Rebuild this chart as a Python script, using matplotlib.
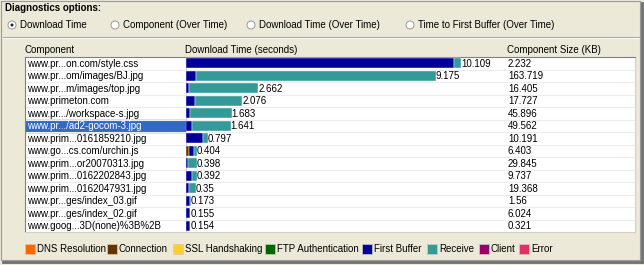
import matplotlib
matplotlib.use("Agg")
import matplotlib.pyplot as plt
from matplotlib.patches import Rectangle, Circle

plt.rcParams['font.family'] = ['Liberation Sans', 'DejaVu Sans']

# ── data ─────────────────────────────────────────────────────────────
components = [
    "www.pr...on.com/style.css",
    "www.pr...om/images/BJ.jpg",
    "www.pr...m/images/top.jpg",
    "www.primeton.com",
    "www.pr.../workspace-s.jpg",
    "www.pr.../ad2-gocom-3.jpg",
    "www.prim...0161859210.jpg",
    "www.go...cs.com/urchin.js",
    "www.prim...or20070313.jpg",
    "www.prim...0162202843.jpg",
    "www.prim...0162047931.jpg",
    "www.pr...ges/index_03.gif",
    "www.pr...ges/index_02.gif",
    "www.goog...3D(none)%3B%2B",
]
connection = [0, 0, 0, 0, 0, 0, 0, 0.11, 0, 0, 0, 0, 0, 0]
first_buffer = [9.85, 0.37, 0.11, 0.33, 0.15, 0.22, 0.64, 0.18, 0.08, 0.22, 0.10, 0.15, 0.14, 0.154]
receive = [0.259, 8.805, 2.552, 1.746, 1.533, 1.421, 0.157, 0.114, 0.318, 0.172, 0.25, 0.023, 0.015, 0.0]
totals = ["10.109", "9.175", "2.662", "2.076", "1.683", "1.641", "0.797",
          "0.404", "0.398", "0.392", "0.35", "0.173", "0.155", "0.154"]
sizes_kb = ["2.232", "163.719", "16.405", "17.727", "45.896", "49.562", "10.191",
            "6.403", "29.845", "9.737", "19.368", "1.56", "6.024", "0.321"]
selected_row = 5

legend_labels = ["DNS Resolution", "Connection", "SSL Handshaking", "FTP Authentication",
                 "First Buffer", "Receive", "Client", "Error"]
legend_colors = ["#FF6600", "#663300", "#FFCC33", "#006600",
                 "#000099", "#339999", "#990066", "#DD3366"]
radio_labels = ["Download Time", "Component (Over Time)",
                "Download Time (Over Time)", "Time to First Buffer (Over Time)"]

# ── layout (pixels) ──────────────────────────────────────────────────
W, H = 644, 265
BG = "#ECE9D8"
FS = 7
legend_x = [25, 107, 173, 265, 362, 427, 479, 519]
radio_x = [12, 115, 251, 410]
PX_PER_SEC = 27.2

fig = plt.figure(figsize=(W / 100, H / 100), dpi=100)
fig.patch.set_facecolor(BG)


def px_axes(x0, y0, x1, y1):
    return fig.add_axes([x0 / W, 1 - y1 / H, (x1 - x0) / W, (y1 - y0) / H])


# ── window chrome ────────────────────────────────────────────────────
chrome = px_axes(0, 0, W, H)
chrome.set_xlim(0, W)
chrome.set_ylim(H, 0)
chrome.axis("off")

chrome.text(5, 8, "Diagnostics options:", fontsize=FS, fontweight="bold", va="center")
for i, (x, lab) in enumerate(zip(radio_x, radio_labels)):
    chrome.add_patch(Circle((x, 25), 4, facecolor="white", edgecolor="#9A9A9A", lw=0.7))
    if i == 0:
        chrome.add_patch(Circle((x, 25), 1.5, facecolor="#222222", edgecolor="none"))
    chrome.text(x + 8, 25.5, lab, fontsize=FS, va="center")

chrome.plot([3, 640], [37, 37], color="#A8A8A8", lw=0.8)
chrome.plot([3, 640], [38, 38], color="white", lw=0.6)

chrome.text(25, 50, "Component", fontsize=FS, va="center")
chrome.text(185, 50, "Download Time (seconds)", fontsize=FS, va="center")
chrome.text(507, 50, "Component Size (KB)", fontsize=FS, va="center")

for x, lab, col in zip(legend_x, legend_labels, legend_colors):
    chrome.add_patch(Rectangle((x, 244), 10, 10, facecolor=col, edgecolor="#D0CCB8", lw=0.5))
    chrome.text(x + 12, 249.5, lab, fontsize=FS, va="center")

# outer frame with shadow
chrome.plot([1, 640, 640, 1, 1], [1, 1, 260, 260, 1], color="#9A9A9A", lw=0.8)
chrome.plot([642, 642], [3, 262], color="#707070", lw=2)
chrome.plot([3, 642], [262, 262], color="#707070", lw=2)

# ── table ────────────────────────────────────────────────────────────
n = len(components)
rows = list(range(n))

table = px_axes(25, 57, 635, 232)
table.set_facecolor("white")
table.set_xlim(25, 635)
table.set_ylim(n - 0.5, -0.5)
table.set_xticks([])
table.set_yticks([])
for side in ["top", "left"]:
    table.spines[side].set_color("#808080")
for side in ["bottom", "right"]:
    table.spines[side].set_color("#D4D0C8")
for i in rows[:-1]:
    table.axhline(i + 0.5, color="#ECECEC", lw=0.8)
table.axhspan(selected_row - 0.5, selected_row + 0.5,
              xmin=0, xmax=(185 - 25) / 610, color="#316AC5")
table.axvline(185.5, color="#C8C8C8", lw=0.8)

for i, (name, size) in zip(rows, zip(components, sizes_kb)):
    col = "white" if i == selected_row else "black"
    table.text(27, i + 0.05, name, fontsize=FS, va="center", color=col)
    table.text(508, i + 0.05, size, fontsize=FS, va="center")

# ── bars ─────────────────────────────────────────────────────────────
bars = px_axes(186, 57, 635, 232)
bars.set_facecolor("none")
bars.set_xlim(0, (635 - 186) / PX_PER_SEC)
bars.set_ylim(n - 0.5, -0.5)
bars.axis("off")

h = 0.8
left = [0.0] * n
for vals, col in [(connection, "#663300"), (first_buffer, "#000099"), (receive, "#339999")]:
    bars.barh(rows, vals, left=left, height=h, color=col, edgecolor="white", lw=0.3)
    left = [a + b for a, b in zip(left, vals)]

for i, lab in zip(rows, totals):
    bars.text(left[i], i + 0.05, lab, fontsize=FS, va="center", ha="left")

fig.savefig("out.png", dpi=100, facecolor=BG)
